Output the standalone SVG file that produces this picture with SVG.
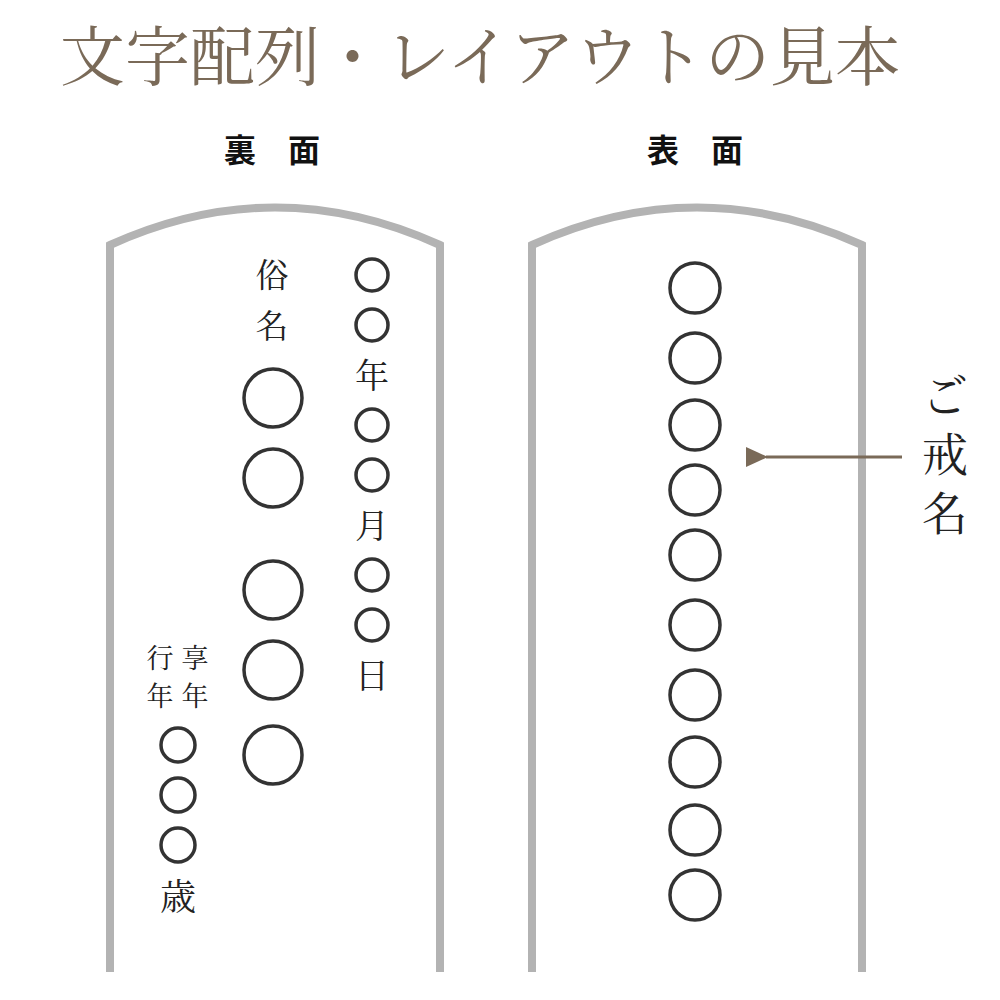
<svg xmlns="http://www.w3.org/2000/svg" width="1000" height="1000" viewBox="0 0 1000 1000">
<defs>
<style>
.ser{font-family:"Noto Serif CJK JP","Liberation Serif","Noto Sans CJK JP",serif;text-anchor:middle;fill:#222}
.hd{font-family:"Noto Sans CJK JP",sans-serif;font-weight:bold;font-size:32px;text-anchor:middle;fill:#111}
.tab{fill:#fff;stroke:#b3b3b3;stroke-width:8}
.c{fill:none;stroke:#333;stroke-width:3.5}
</style>
<marker id="ah" markerWidth="22" markerHeight="20" refX="2" refY="10" orient="auto" markerUnits="userSpaceOnUse" viewBox="0 0 22 20"><path d="M22,0 L0,10 L22,20z" fill="#7a6a58"/></marker>
</defs>
<rect width="1000" height="1000" fill="#fff"/>
<text x="480" y="80" class="ser" font-size="65" style="fill:#7a6a58">文字配列・レイアウトの見本</text>
<text x="272" y="162" class="hd">裏　面</text>
<text x="695" y="162" class="hd">表　面</text>
<g id="back">
<path class="tab" d="M110,972 L110,245 Q275,170 440,245 L440,972"/>
<text class="ser" font-size="33" x="272" y="287">俗</text>
<text class="ser" font-size="33" x="272" y="338">名</text>
<g class="c"><circle cx="273" cy="398" r="29"/><circle cx="273" cy="478" r="29"/><circle cx="273" cy="590" r="29"/><circle cx="273" cy="670" r="29"/><circle cx="273" cy="755" r="29"/></g>
<g class="c"><circle cx="372" cy="275" r="16"/><circle cx="372" cy="325" r="16"/><circle cx="372" cy="425" r="16"/><circle cx="372" cy="475" r="16"/><circle cx="372" cy="575" r="16"/><circle cx="372" cy="625" r="16"/></g>
<text class="ser" font-size="34" x="372" y="388">年</text>
<text class="ser" font-size="34" x="372" y="538">月</text>
<text class="ser" font-size="34" x="372" y="688">日</text>
<text class="ser" font-size="27" x="195" y="668">享</text>
<text class="ser" font-size="27" x="195" y="706">年</text>
<text class="ser" font-size="27" x="160" y="668">行</text>
<text class="ser" font-size="27" x="160" y="706">年</text>
<g class="c"><circle cx="178" cy="745" r="17"/><circle cx="178" cy="795" r="17"/><circle cx="178" cy="845" r="17"/></g>
<text class="ser" font-size="36" x="178" y="910">歳</text>
</g>
<g id="front">
<path class="tab" d="M532,972 L532,245 Q697,170 862,245 L862,972"/>
<g class="c"><circle cx="695" cy="288" r="25"/><circle cx="695" cy="358" r="25"/><circle cx="695" cy="425" r="25"/><circle cx="695" cy="490" r="25"/><circle cx="695" cy="555" r="25"/><circle cx="695" cy="625" r="25"/><circle cx="695" cy="695" r="25"/><circle cx="695" cy="762" r="25"/><circle cx="695" cy="830" r="25"/><circle cx="695" cy="895" r="25"/></g>
</g>
<g id="connectors"><line x1="902" y1="457" x2="766" y2="457" stroke="#7a6a58" stroke-width="3" marker-end="url(#ah)"/></g>
<g id="label">
<text class="ser" font-size="46" x="945" y="412">ご</text>
<text class="ser" font-size="46" x="945" y="471">戒</text>
<text class="ser" font-size="46" x="945" y="530">名</text>
</g>
</svg>
